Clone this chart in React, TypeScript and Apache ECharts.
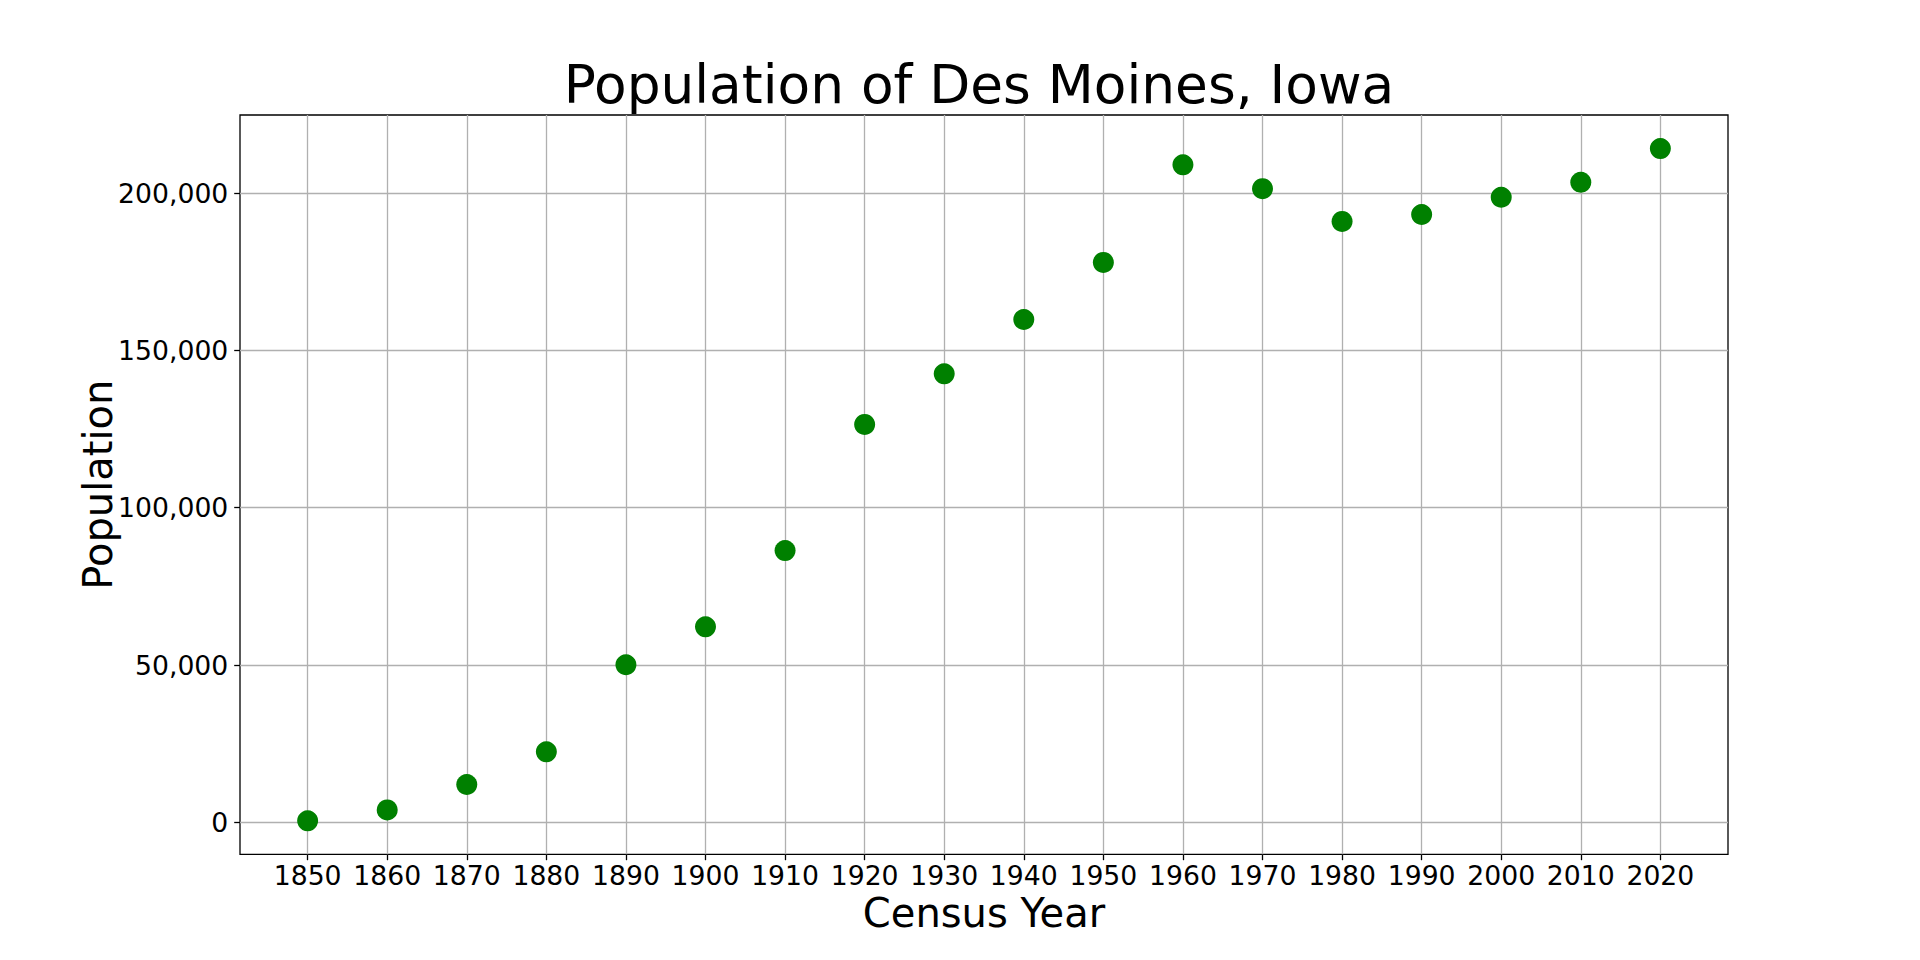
import React, { useEffect, useRef } from "react";
import * as echarts from "echarts";

const years = [
  1850, 1860, 1870, 1880, 1890, 1900, 1910, 1920, 1930, 1940, 1950, 1960,
  1970, 1980, 1990, 2000, 2010, 2020,
];
const population = [
  502, 3965, 12035, 22408, 50093, 62139, 86368, 126468, 142559, 159819,
  177965, 208982, 201404, 191003, 193187, 198682, 203433, 214133,
];
const yTicks = [0, 50000, 100000, 150000, 200000];

const FONT = "DejaVu Sans";

// matplotlib-style 5% auto margins
const pad = (lo: number, hi: number) => {
  const m = (hi - lo) * 0.05;
  return [lo - m, hi + m];
};

const App: React.FC = () => {
  const chartRef = useRef<HTMLDivElement>(null);

  useEffect(() => {
    document.body.style.margin = "0";
    if (!chartRef.current) return undefined;
    const chart = echarts.init(chartRef.current, null, { renderer: "svg" });

    const [xMin, xMax] = pad(Math.min(...years), Math.max(...years));
    const [yMin, yMax] = pad(Math.min(...population), Math.max(...population));

    const tickStyle = { show: true, inside: false, length: 5.8, lineStyle: { color: "#000", width: 1.3 } };
    const gridLine = { show: true, lineStyle: { color: "#b0b0b0", width: 1.3 } };
    const labelStyle = { color: "#000", fontSize: 26.67, fontFamily: FONT };

    const options: echarts.EChartsOption = {
      animation: false,
      backgroundColor: "#fff",
      title: {
        text: "Population of Des Moines, Iowa",
        left: 974,
        top: 53,
        textAlign: "center",
        textStyle: { fontSize: 53.33, fontWeight: "normal", color: "#000", fontFamily: FONT },
      },
      grid: {
        left: 240,
        right: 192,
        top: 115,
        bottom: 105.6,
        show: true,
        borderColor: "#000",
        borderWidth: 1.3,
        backgroundColor: "transparent",
      },
      xAxis: {
        type: "value",
        min: xMin,
        max: xMax,
        name: "Census Year",
        nameLocation: "middle",
        nameGap: 39,
        nameMoveOverlap: false,
        nameTextStyle: { fontSize: 40, color: "#000", fontFamily: FONT },
        axisLine: { show: false, onZero: false },
        axisTick: { ...tickStyle, customValues: years },
        axisLabel: { ...labelStyle, margin: 7.5, customValues: years, formatter: (v: number) => String(v) },
        splitLine: gridLine,
      },
      yAxis: {
        type: "value",
        min: yMin,
        max: yMax,
        name: "Population",
        nameLocation: "middle",
        nameGap: 122,
        nameMoveOverlap: false,
        nameTextStyle: { fontSize: 40, color: "#000", fontFamily: FONT },
        axisLine: { show: false, onZero: false },
        axisTick: { ...tickStyle, customValues: yTicks },
        axisLabel: {
          ...labelStyle,
          margin: 11.7,
          customValues: yTicks,
          formatter: (v: number) => v.toLocaleString("en-US"),
        },
        splitLine: gridLine,
      },
      series: [
        {
          type: "scatter",
          data: years.map((y, i) => [y, population[i]]),
          symbolSize: 21,
          itemStyle: { color: "#008000", opacity: 1 },
        },
      ],
    };
    chart.setOption(options);

    return () => {
      chart.dispose();
    };
  }, []);

  return <div ref={chartRef} style={{ width: "1920px", height: "960px" }} />;
};

export default App;
